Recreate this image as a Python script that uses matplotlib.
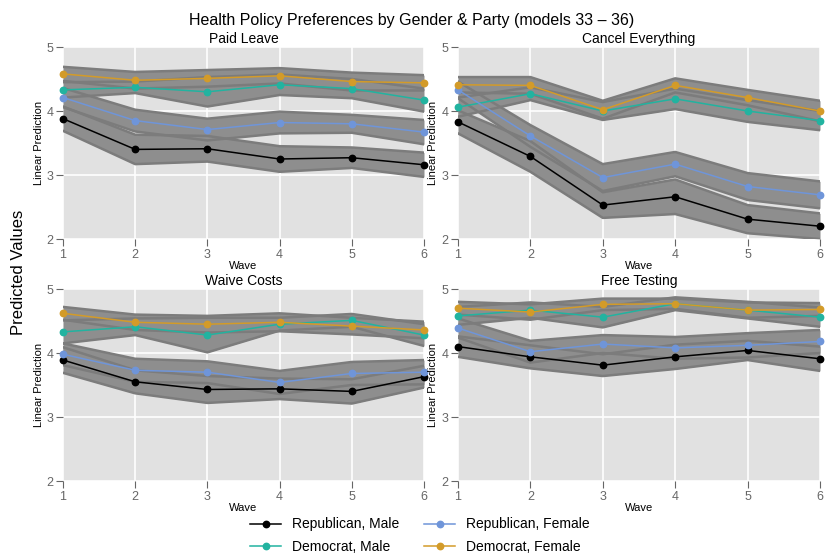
import numpy as np
import matplotlib
matplotlib.use("Agg")
import matplotlib.pyplot as plt

plt.rcParams['font.family'] = ['Liberation Sans', 'DejaVu Sans']

waves = [1, 2, 3, 4, 5, 6]
series_names = ["Republican, Male", "Democrat, Male", "Republican, Female", "Democrat, Female"]
series_colors = ["#000000", "#22b3a0", "#6f95d9", "#d39b29"]
panel_titles = ["Paid Leave", "Cancel Everything", "Waive Costs", "Free Testing"]

# predicted values: rep male, dem male, rep female, dem female
paid_leave = [
    [3.88, 3.40, 3.41, 3.25, 3.27, 3.16],
    [4.33, 4.37, 4.30, 4.41, 4.35, 4.17],
    [4.21, 3.85, 3.71, 3.82, 3.80, 3.67],
    [4.58, 4.48, 4.51, 4.55, 4.46, 4.44],
]
paid_leave_ci = [
    [0.19, 0.23, 0.20, 0.20, 0.16, 0.19],
    [0.12, 0.09, 0.23, 0.16, 0.15, 0.18],
    [0.15, 0.17, 0.17, 0.17, 0.14, 0.19],
    [0.11, 0.13, 0.13, 0.12, 0.14, 0.12],
]
cancel_everything = [
    [3.83, 3.29, 2.53, 2.66, 2.31, 2.20],
    [4.06, 4.27, 4.00, 4.19, 4.00, 3.85],
    [4.33, 3.61, 2.96, 3.17, 2.82, 2.69],
    [4.41, 4.40, 4.02, 4.40, 4.21, 4.00],
]
cancel_everything_ci = [
    [0.18, 0.24, 0.20, 0.27, 0.22, 0.20],
    [0.15, 0.10, 0.14, 0.16, 0.17, 0.15],
    [0.13, 0.17, 0.21, 0.19, 0.21, 0.21],
    [0.12, 0.13, 0.14, 0.11, 0.12, 0.16],
]
waive_costs = [
    [3.89, 3.55, 3.43, 3.44, 3.40, 3.63],
    [4.33, 4.41, 4.28, 4.45, 4.51, 4.28],
    [3.98, 3.73, 3.70, 3.54, 3.68, 3.70],
    [4.62, 4.48, 4.45, 4.48, 4.42, 4.36],
]
waive_costs_ci = [
    [0.20, 0.18, 0.21, 0.16, 0.19, 0.17],
    [0.18, 0.13, 0.27, 0.10, 0.10, 0.17],
    [0.17, 0.18, 0.17, 0.18, 0.18, 0.19],
    [0.10, 0.12, 0.13, 0.14, 0.13, 0.13],
]
free_testing = [
    [4.10, 3.94, 3.81, 3.94, 4.04, 3.91],
    [4.58, 4.67, 4.56, 4.77, 4.67, 4.56],
    [4.39, 4.02, 4.14, 4.08, 4.12, 4.18],
    [4.70, 4.64, 4.76, 4.77, 4.67, 4.68],
]
free_testing_ci = [
    [0.16, 0.18, 0.17, 0.19, 0.15, 0.19],
    [0.14, 0.12, 0.16, 0.10, 0.13, 0.15],
    [0.15, 0.17, 0.14, 0.17, 0.19, 0.18],
    [0.10, 0.12, 0.09, 0.08, 0.12, 0.10],
]

panel_values = [paid_leave, cancel_everything, waive_costs, free_testing]
panel_ci = [paid_leave_ci, cancel_everything_ci, waive_costs_ci, free_testing_ci]

W, H = 825, 553
fig = plt.figure(figsize=(W / 100, H / 100), dpi=100)
boxes = [(63, 47, 424, 239), (458, 47, 820, 239), (63, 289, 424, 481), (458, 289, 820, 481)]

band_fill = "#8e8e8e"
band_edge = "#7c7c7c"
tick_grey = "#666666"

for i, (x0, y0, x1, y1) in enumerate(boxes):
    ax = fig.add_axes([x0 / W, 1 - y1 / H, (x1 - x0) / W, (y1 - y0) / H])
    ax.set_facecolor("#e1e1e1")
    ax.set_xlim(1, 6)
    ax.set_ylim(2, 5)
    for s in ax.spines.values():
        s.set_visible(False)
    ax.set_xticks(waves)
    ax.set_yticks([2, 3, 4, 5])
    ax.grid(True, color="white", linewidth=1.2)
    ax.set_axisbelow(True)
    ax.tick_params(direction="out", length=5, width=0.8, color=tick_grey,
                   labelcolor=tick_grey, labelsize=9, pad=2)

    vals = panel_values[i]
    cis = panel_ci[i]
    for v, c in zip(vals, cis):
        v = np.array(v)
        c = np.array(c)
        ax.fill_between(waves, v - c, v + c, color=band_fill, linewidth=0, zorder=2)
    for v, c in zip(vals, cis):
        v = np.array(v)
        c = np.array(c)
        ax.plot(waves, v - c, color=band_edge, linewidth=1.8, zorder=3)
        ax.plot(waves, v + c, color=band_edge, linewidth=1.8, zorder=3)
    for v, name, col in zip(vals, series_names, series_colors):
        ax.plot(waves, v, color=col, linewidth=1.1, marker="o", markersize=4.6,
                label=name, zorder=5, clip_on=False)

    ax.set_title(panel_titles[i], fontsize=10, pad=3)
    ax.set_xlabel("Wave", fontsize=8, labelpad=0)
    ax.set_ylabel("Linear Prediction", fontsize=8, labelpad=2)
    if i == 0:
        handles, labels = ax.get_legend_handles_labels()

fig.text(412 / W, 1 - 20 / H, "Health Policy Preferences by Gender & Party (models 33 \u2013 36)",
         ha="center", va="center", fontsize=11.5)
fig.text(19 / W, 1 - 272 / H, "Predicted Values", rotation=90, ha="center", va="center", fontsize=12)

fig.legend(handles, labels, ncol=2, loc="lower center", bbox_to_anchor=(0.509, -0.024),
           frameon=False, fontsize=10, handlelength=2.2, columnspacing=1.8,
           labelspacing=0.6, handletextpad=0.8)

fig.savefig("out.png", dpi=100)
plt.close(fig)
